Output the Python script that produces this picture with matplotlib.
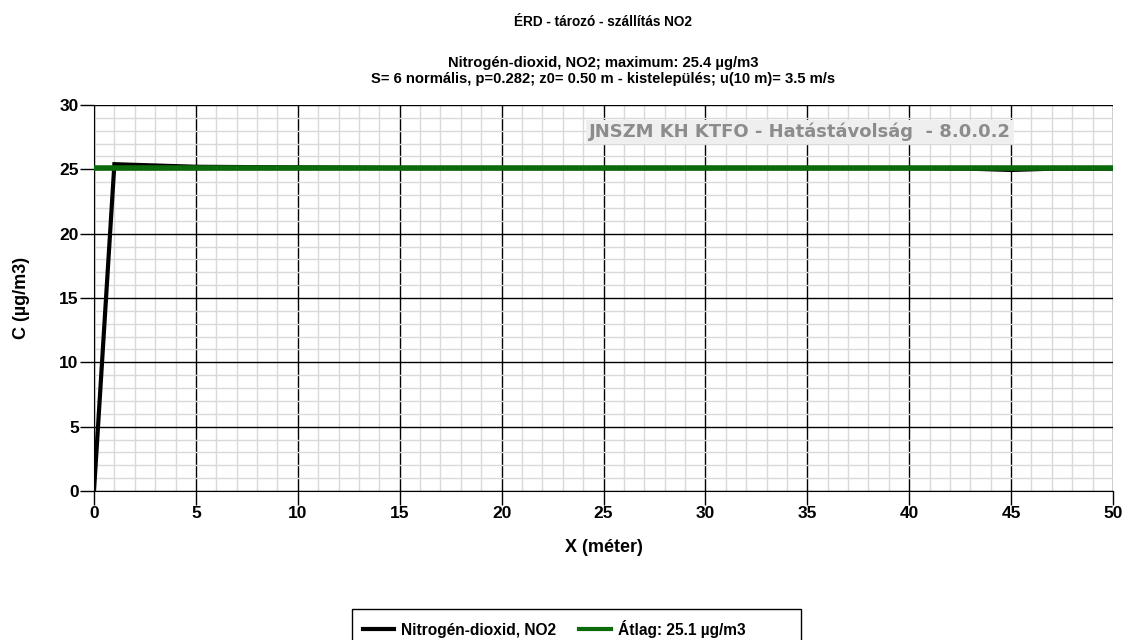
import matplotlib
matplotlib.use("Agg")
import matplotlib.pyplot as plt
from matplotlib.ticker import MultipleLocator, FixedLocator
from matplotlib.patches import Rectangle

plt.rcParams['font.family'] = ['Liberation Sans', 'DejaVu Sans']

# Data
x_m = [0, 1, 3, 5, 10, 15, 20, 25, 30, 35, 40, 43, 45, 47, 50]
c_no2 = [0, 25.4, 25.3, 25.2, 25.15, 25.1, 25.1, 25.1, 25.1, 25.1, 25.1, 25.05, 24.95, 25.05, 25.05]
avg = 25.1

title = "ÉRD - tározó - szállítás NO2"
subtitle = ("Nitrogén-dioxid, NO2; maximum: 25.4 µg/m3\n"
            "S= 6 normális, p=0.282; z0= 0.50 m - kistelepülés; u(10 m)= 3.5 m/s")
xlabel = "X (méter)"
ylabel = "C (µg/m3)"
label_series = "Nitrogén-dioxid, NO2"
label_avg = "Átlag: 25.1 µg/m3"
watermark = "JNSZM KH KTFO - Hatástávolság  - 8.0.0.2"

fig = plt.figure(figsize=(11.24, 6.4), dpi=100)
ax = fig.add_axes([94/1124, 1-491/640, (1113-94)/1124, (491-105)/640])

ax.set_xlim(0, 50)
ax.set_ylim(0, 30)
ax.xaxis.set_major_locator(MultipleLocator(5))
ax.yaxis.set_major_locator(MultipleLocator(5))
ax.xaxis.set_minor_locator(FixedLocator([i for i in range(51) if i % 5]))
ax.yaxis.set_minor_locator(FixedLocator([i for i in range(31) if i % 5]))
ax.grid(which='minor', color='#d9d9d9', linewidth=1.0)
ax.grid(which='major', color='black', linewidth=1.0)
ax.set_axisbelow(True)
for s in ['top', 'right']:
    ax.spines[s].set_visible(False)
ax.spines['left'].set_color('black')
ax.spines['bottom'].set_color('black')
ax.tick_params(which='minor', length=0)
ax.tick_params(which='major', length=10, width=1, labelsize=12.5, pad=1)
for lab in ax.get_xticklabels() + ax.get_yticklabels():
    lab.set_fontweight('bold')

ax.plot(x_m, c_no2, color='black', linewidth=3, label=label_series, zorder=3, solid_joinstyle='miter')
ax.plot([0, 50], [avg, avg], color='#0b6b0b', linewidth=4, label=label_avg, zorder=4)

ax.set_xlabel(xlabel, fontsize=13, fontweight='bold', labelpad=13)
ax.set_ylabel(ylabel, fontsize=13, fontweight='bold', labelpad=21)

fig.text(603/1124, 1-22/640, title, ha='center', va='center', fontsize=9.8, fontweight='bold')
fig.text(603/1124, 1-71/640, subtitle, ha='center', va='center', fontsize=10.6,
         fontweight='bold', linespacing=1.2)

ax.text((800-94)/1019, (491-132)/386, watermark, transform=ax.transAxes, ha='center', va='center',
        fontsize=13.0, color='#8c8c8c', fontweight='bold', family=['DejaVu Sans'],
        bbox=dict(facecolor='#efefef', edgecolor='none', pad=2), zorder=5)

leg = fig.legend(loc='upper left', bbox_to_anchor=(352/1124, 1-609/640), ncol=2,
                 frameon=False, fontsize=11.2,
                 handlelength=2.0, handletextpad=0.45, columnspacing=1.5,
                 borderpad=0.7, borderaxespad=0)
for t in leg.get_texts():
    t.set_fontweight('bold')
for h in leg.legend_handles:
    h.set_linewidth(3)

fig.patches.append(Rectangle((352/1124, -10/640), (801-352)/1124, (640-609+10)/640,
                             transform=fig.transFigure, fill=False, edgecolor='black',
                             linewidth=1.0, figure=fig))

fig.savefig("out.png", dpi=100)
